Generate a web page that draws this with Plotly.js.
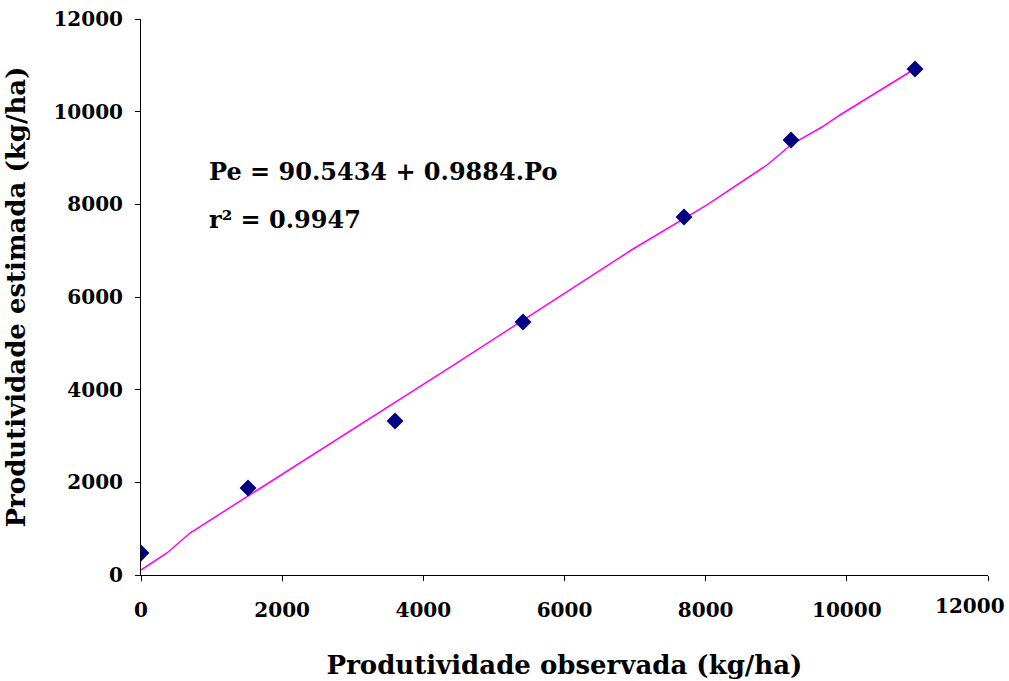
<!DOCTYPE html>
<html>
<head>
<meta charset="utf-8">
<script src="https://cdn.plot.ly/plotly-3.0.1.min.js"></script>
<style>html,body{margin:0;padding:0;background:#fff;}#chart{width:1009px;height:681px;}</style>
</head>
<body>
<div id="chart"></div>
<script>
// Observed vs estimated productivity (kg/ha)
var obsX = [0, 1516, 3599, 5412, 7693, 9209, 10966];
var estY = [475, 1877, 3323, 5460, 7726, 9388, 10920];

// Fitted line vertices
var fitX = [0, 368, 694, 4066, 4477, 6971, 7424, 7750, 8019, 8869, 9223, 9648, 9903, 10937];
var fitY = [108, 475, 906, 4166, 4576, 7036, 7446, 7727, 7986, 8849, 9302, 9669, 9928, 10899];

var tickVals = [0, 2000, 4000, 6000, 8000, 10000, 12000];
var tickText = ["0", "2000", "4000", "6000", "8000", "10000", "12000"];

var eqText = "Pe = 90.5434 + 0.9884.Po";
var r2Text = "r\u00b2 = 0.9947";
var xTitle = "Produtividade observada (kg/ha)";
var yTitle = "Produtividade estimada (kg/ha)";

var font = "DejaVu Serif, serif";
var tickFont = {family: font, size: 20, color: "#000", weight: "bold"};

var traces = [
  {x: fitX, y: fitY, type: "scatter", mode: "lines",
   line: {color: "#ff00ff", width: 1.5}, hoverinfo: "skip"},
  {x: obsX, y: estY, type: "scatter", mode: "markers",
   marker: {symbol: "diamond", color: "#000080", size: 13}}
];

// x tick labels: last one drawn as annotation so it is not clipped at the page edge
var xTickText = tickText.slice(0, tickText.length - 1).concat([""]);

var layout = {
  width: 1009, height: 681,
  margin: {l: 141, r: 21, t: 19, b: 106},
  paper_bgcolor: "#fff", plot_bgcolor: "#fff",
  showlegend: false,
  font: {family: font, color: "#000"},
  xaxis: {
    range: [0, 12000], tickvals: tickVals, ticktext: xTickText,
    showgrid: false, zeroline: false, showline: true, linecolor: "#000", linewidth: 1,
    ticks: "outside", ticklen: 5, tickcolor: "#000",
    ticklabelstandoff: 12,
    tickfont: tickFont,
    title: {text: xTitle, standoff: 34, font: {family: font, size: 26, color: "#000", weight: "bold"}}
  },
  yaxis: {
    range: [0, 12000], tickvals: tickVals, ticktext: tickText,
    showgrid: false, zeroline: false, showline: true, linecolor: "#000", linewidth: 1,
    ticks: "outside", ticklen: 5, tickcolor: "#000",
    ticklabelstandoff: 8,
    tickfont: tickFont,
    title: {text: yTitle, standoff: 20, font: {family: font, size: 26, color: "#000", weight: "bold"}}
  },
  annotations: [
    {xref: "x", yref: "paper", x: tickVals[tickVals.length - 1], y: 0, yshift: -31, xshift: -18,
     xanchor: "center", yanchor: "middle", text: tickText[tickText.length - 1], showarrow: false,
     font: tickFont},
    {xref: "paper", yref: "paper", x: (207 - 141) / 847, y: (575 - 172) / 556, xanchor: "left", yanchor: "middle",
     text: eqText, showarrow: false, font: {family: font, size: 24, color: "#000", weight: "bold"}},
    {xref: "paper", yref: "paper", x: (207 - 141) / 847, y: (575 - 220) / 556, xanchor: "left", yanchor: "middle",
     text: r2Text, showarrow: false, font: {family: font, size: 24, color: "#000", weight: "bold"}}
  ]
};

Plotly.newPlot("chart", traces, layout, {displayModeBar: false, staticPlot: true});
</script>
</body>
</html>
